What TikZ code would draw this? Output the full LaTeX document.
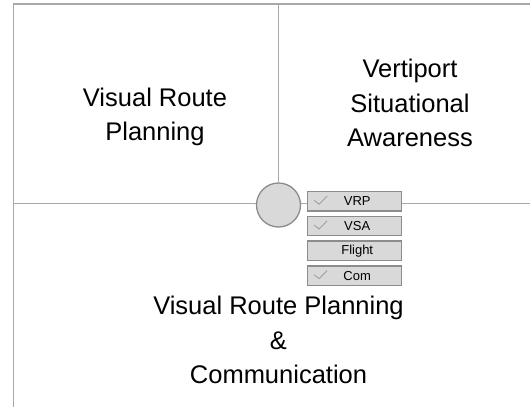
\documentclass[tikz,border=0pt]{standalone}
\usepackage{fontspec}
\setmainfont{Liberation Sans}
\usetikzlibrary{positioning}
\definecolor{rulegray}{HTML}{A8A8A8}
\definecolor{tagfill}{HTML}{D9D9D9}
\definecolor{tagedge}{HTML}{8C8C8C}
\tikzset{
  rule/.style={draw=rulegray,line width=1.5pt},
  panel/.style={align=center,font=\fontsize{25.5}{34.5}\selectfont},
  tag/.style={draw=tagedge,fill=tagfill,line width=1.3pt,minimum width=94pt,minimum height=19.5pt,inner sep=0pt,font=\fontsize{13}{15}\selectfont},
  tick/.style={draw=gray!75,line width=0.9pt},
}
\begin{document}
\begin{tikzpicture}[x=1pt,y=-1pt]
                                \useasboundingbox (0,0) rectangle (530,407);
                                \coordinate (bl) at (13.5,407);
                                \coordinate (tl) at (13.5,4);
                                \coordinate (tr) at (530,4);
                                \coordinate (ml) at (13.5,203.5);
                                \coordinate (mr) at (530,203.5);
                                \coordinate (mt) at (278.5,3);
                                \draw[rule] (bl) -- (tl) -- (tr);
                                \draw[rule] (ml) -- (mr);
                                \node[circle,draw=tagedge,fill=tagfill,line width=1.3pt,minimum size=44pt,inner sep=0pt] (hub) at (278.5,205) {};
                                \draw[rule] (mt) -- (hub);
                                \node[tag,text width=94pt,align=center] (vrp) at (354.7,201.2) {\hspace*{5pt}VRP};
                                \node[tag,text width=94pt,align=center,below=4pt of vrp] (vsa) {\hspace*{5pt}VSA};
                                \node[tag,text width=94pt,align=center,below=4pt of vsa] (flight) {\hspace*{5pt}Flight};
                                \node[tag,text width=94pt,align=center,below=4pt of flight] (com) {\hspace*{5pt}Com};
                                \draw[tick] ([shift={(7,-1)}]vrp.west) -- ++(5,4) -- ++(8,-8);
                                \draw[tick] ([shift={(7,-1)}]vsa.west) -- ++(5,4) -- ++(8,-8);
                                \draw[tick] ([shift={(7,-1)}]com.west) -- ++(5,4) -- ++(8,-8);
                                \node[panel] (vrpText) at (155,117) {Visual Route\\Planning};
                                \node[panel] (vsaText) at (410,103) {Vertiport\\Situational\\Awareness};
                                \node[panel] (comText) at (278.5,340) {Visual Route Planning\\\&\\Communication};
                            \end{tikzpicture}
\end{document}
